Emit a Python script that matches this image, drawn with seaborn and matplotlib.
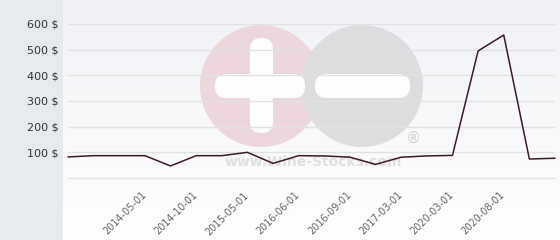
import numpy as np
import pandas as pd
import matplotlib
matplotlib.use("Agg")
import matplotlib.pyplot as plt
import matplotlib.transforms as mtransforms
from matplotlib.patches import Circle, FancyBboxPatch
import seaborn as sns

# ---- data ----
prices = [82, 87, 87, 87, 47, 87, 87, 100, 57, 87,
          86, 81, 53, 81, 86, 88, 495, 557, 74, 77]
tick_positions = [3, 5, 7, 9, 11, 13, 15, 17]
tick_labels = ["2014-05-01", "2014-10-01", "2015-05-01", "2016-06-01",
               "2016-09-01", "2017-03-01", "2020-03-01", "2020-08-01"]
y_ticks = [100, 200, 300, 400, 500, 600]
y_tick_labels = ["100 $", "200 $", "300 $", "400 $", "500 $", "600 $"]

df = pd.DataFrame({"idx": np.arange(len(prices)), "price": prices})

sns.set_theme(style="white")
plt.rcParams["font.family"] = ["DejaVu Sans"]

W, H = 560, 240
fig = plt.figure(figsize=(W / 100, H / 100), dpi=100)
fig.patch.set_facecolor("#e6eaed")

# background axes in pixel coordinates
bg = fig.add_axes([0, 0, 1, 1], zorder=0)
bg.set_xlim(0, W)
bg.set_ylim(H, 0)
bg.axis("off")
grad = np.linspace(0, 1, 256).reshape(-1, 1)
top_c = np.array([0xf1, 0xf2, 0xf6]) / 255
bot_c = np.array([1.0, 1.0, 1.0])
img = top_c[None, None, :] * (1 - grad[..., None]) + bot_c[None, None, :] * grad[..., None]
bg.imshow(img, extent=[63, W, H, 0], aspect="auto", zorder=0)

# watermark logo
bg.add_patch(Circle((261, 86), 61, color="#ecd7dc", zorder=1, lw=0))
bg.add_patch(Circle((362, 86), 61, color="#dddddf", zorder=2, lw=0))
for (x0, y0, w, h, z) in [(250, 38, 23, 95, 3), (215, 74, 90, 24, 3), (315, 74, 95, 24, 3)]:
    bg.add_patch(FancyBboxPatch((x0 + 11, y0 + 11), w - 22, h - 22,
                                boxstyle="round,pad=11", color="#fdfdfe", lw=0, zorder=z))
bg.text(313, 162, "www.Wine-Stocks.com", ha="center", va="center",
        fontsize=10, fontweight="bold", color="#e0e0e0", zorder=4)
bg.text(413, 138, "®", ha="center", va="center", fontsize=11, color="#d4d4d4", zorder=4)

# main plot axes
ax = fig.add_axes([68 / W, (H - 178) / H, (555 - 68) / W, (178 - 24) / H], zorder=1)
ax.patch.set_alpha(0)
sns.lineplot(data=df, x="idx", y="price", ax=ax, color="#3b1b2b", linewidth=1.1)
for l in ax.lines:
    l.set_clip_on(False)
ax.set_xlim(0, len(prices) - 1)
ax.set_ylim(0, 600)
ax.set_yticks(y_ticks)
ax.set_yticklabels(y_tick_labels)
ax.set_xticks(tick_positions)
ax.set_xticklabels([])
base = ax.get_xaxis_transform()
offset = mtransforms.ScaledTranslation(-4 / 100, -12 / 100, fig.dpi_scale_trans)
for pos, lab in zip(tick_positions, tick_labels):
    ax.text(pos, 0, lab, transform=base + offset, rotation=45,
            rotation_mode="anchor", ha="right", va="top",
            fontsize=7, color="#666666", clip_on=False)
ax.tick_params(axis="x", length=0)
ax.tick_params(axis="y", length=0, pad=7, labelsize=8, labelcolor="#333333")
ax.grid(False)
ax.yaxis.grid(True, color="#e2e2e4", linewidth=1)
ax.axhline(0, color="#e2e2e4", linewidth=1, clip_on=False, zorder=0.5)
ax.set_axisbelow(True)
ax.set_xlabel("")
ax.set_ylabel("")
for s in ax.spines.values():
    s.set_visible(False)

fig.savefig("out.png", dpi=100)
